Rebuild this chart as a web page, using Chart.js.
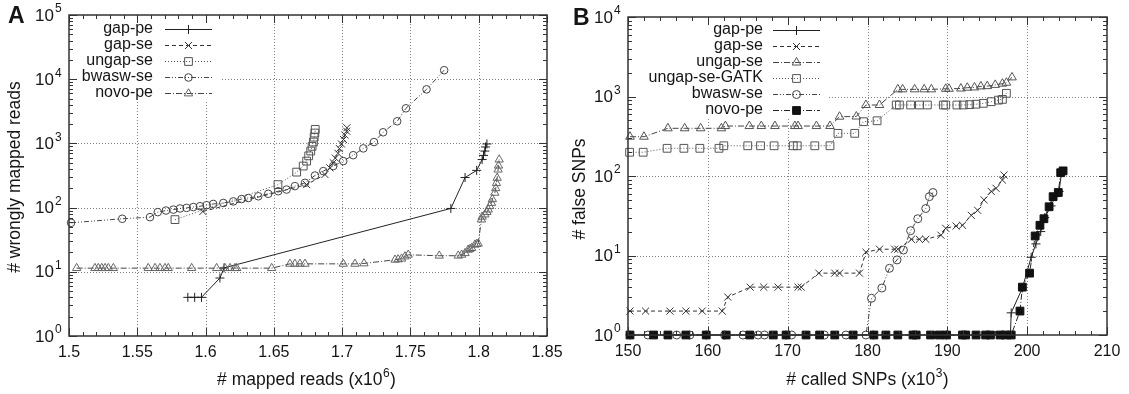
<!DOCTYPE html>
<html>
<head>
<meta charset="utf-8">
<script src="https://cdn.jsdelivr.net/npm/chart.js@4.4.1/dist/chart.umd.min.js"></script>
<style>
  body { margin: 0; background: #fff; }
  #wrap { position: relative; width: 1129px; height: 394px; }
  canvas { position: absolute; top: 0; }
</style>
</head>
<body>
<div id="wrap">
  <canvas id="chartA" width="562" height="394" style="left:0"></canvas>
  <canvas id="chartB" width="567" height="394" style="left:562px"></canvas>
</div>
<script>
// ---- panel A data: wrongly mapped reads vs mapped reads (x10^6) ----
const gapPeAx = [1.587, 1.592, 1.597, 1.6105, 1.6135, 1.7796, 1.790, 1.7985, 1.8025, 1.8035, 1.8045, 1.805, 1.806];
const gapPeAy = [4, 4, 4, 8, 11.5, 97, 294, 380, 560, 650, 760, 880, 980];

const gapSeAx = [1.598, 1.674, 1.6874, 1.691, 1.6935, 1.695, 1.697, 1.698, 1.6995, 1.701, 1.702, 1.7033, 1.7035];
const gapSeAy = [87, 228, 328, 416, 500, 590, 700, 830, 980, 1150, 1350, 1550, 1750];

const ungapSeAx = [1.5776, 1.653, 1.6667, 1.6715, 1.674, 1.6755, 1.677, 1.678, 1.679, 1.6795, 1.680, 1.6803];
const ungapSeAy = [65, 228, 357, 444, 530, 640, 760, 900, 1050, 1250, 1450, 1650];

const bwaswSeAx = [1.5015, 1.539, 1.5593, 1.565, 1.571, 1.5764, 1.5813, 1.5861, 1.591, 1.5959, 1.6008, 1.6056,
  1.613, 1.6203, 1.6264, 1.6313, 1.6386, 1.6459, 1.6532, 1.6593, 1.6654, 1.6728, 1.6801, 1.6862, 1.6935,
  1.7008, 1.7081, 1.7155, 1.7233, 1.730, 1.7403, 1.7467, 1.7618, 1.7747];
const bwaswSeAy = [58, 67, 71, 85, 90, 93, 97, 99, 102, 105, 109, 114, 118, 125, 136, 141, 150, 164, 180, 191,
  216, 243, 316, 370, 444, 530, 655, 836, 1050, 1490, 2210, 3520, 6950, 13800];

const novoPeAx = [1.5056, 1.519, 1.5215, 1.524, 1.5264, 1.5288, 1.5325, 1.558, 1.563, 1.5666, 1.5703, 1.5727,
  1.5898, 1.6081, 1.6142, 1.6179, 1.6215, 1.6228, 1.6484, 1.6618, 1.6654, 1.6691, 1.6728, 1.7008, 1.7094,
  1.716, 1.7387, 1.741, 1.7435, 1.746, 1.7484, 1.7711, 1.785, 1.7875, 1.79, 1.7923, 1.7935, 1.7948, 1.7972,
  1.7985, 1.7996, 1.802, 1.8025, 1.8045, 1.806, 1.807, 1.808, 1.8094, 1.810, 1.8118, 1.8125, 1.813, 1.8135,
  1.8142, 1.8145, 1.815];
const novoPeAy = [11.4, 11.4, 11.4, 11.4, 11.4, 11.4, 11.4, 11.4, 11.4, 11.4, 11.4, 11.4,
  11.4, 11.4, 11.4, 11.4, 11.4, 11.4, 11.4, 13.3, 13.3, 13.3, 13.3, 13.3, 13.3,
  13.5, 15.4, 15.6, 16, 17.3, 18.4, 17.8, 17.8, 18.4, 19.5, 22, 22.5, 23.4, 26.4,
  27, 27.4, 65, 72, 78, 85, 93, 105, 118, 135, 170, 200, 240, 290,
  390, 450, 560];

const xTicksA = [1.5, 1.55, 1.6, 1.65, 1.7, 1.75, 1.8, 1.85];
const xTickLabelsA = ['1.5', '1.55', '1.6', '1.65', '1.7', '1.75', '1.8', '1.85'];
const yExpsA = [0, 1, 2, 3, 4, 5];

// ---- panel B data: false SNPs vs called SNPs (x10^3) ----
const gapPeBx = [150.25, 159.8, 169.8, 180.7, 189.9, 197.9, 198.0, 199.4, 200.5, 201.1, 201.7, 202.2, 203.0, 203.5, 204.0, 204.3];
const gapPeBy = [1, 1, 1, 1, 1, 1, 1.9, 3.9, 9.5, 14, 20, 30, 42, 55, 64, 110];

const gapSeBx = [150.25, 152.2, 155.25, 157.25, 159.3, 161.8, 162.5, 165.3, 167.0, 168.8, 171.3, 171.7, 173.9,
  175.9, 176.5, 179.0, 179.8, 181.5, 183.4, 183.8, 185.5, 186.5, 187.3, 189.2, 189.8, 191.1, 191.9, 193.0,
  193.8, 194.6, 195.5, 196.1, 196.9, 197.1];
const gapSeBy = [2, 2, 2, 2, 2, 2, 3, 4, 4, 4, 4, 4, 6,
  6, 6, 6, 11, 12, 12, 12, 16, 16, 16, 18, 22, 23.5, 24, 32,
  37, 50, 64, 70, 89, 103];

const ungapSeBx = [150.25, 152, 155, 157.1, 159.1, 161.7, 162.2, 165.2, 166.7, 168.4, 170.9, 171.3, 173.6, 175.3,
  176.5, 178.6, 179.8, 181.5, 183.8, 184.4, 185.9, 187.1, 188, 189.8, 190.2, 191.7, 192.5, 193.4, 194.2,
  195.0, 196.0, 196.9, 197.4, 198.1];
const ungapSeBy = [312, 312, 398, 398, 398, 398, 425, 425, 425, 425, 425, 425, 425, 425,
  557, 560, 782, 782, 1230, 1230, 1230, 1230, 1230, 1250, 1250, 1260, 1290, 1300, 1340,
  1350, 1400, 1450, 1490, 1740];

const gatkBx = [150.2, 151.9, 154.9, 157, 159, 161.4, 162, 165, 166.6, 168.3, 170.7, 171.2, 173.4, 175.3,
  176.3, 178.4, 179.5, 181.2, 183.6, 184, 185.4, 186.5, 187.5, 189.5, 189.8, 191.2, 192, 192.8, 193.6,
  194.5, 195.5, 196.4, 196.9, 197.4];
const gatkBy = [199, 199, 223, 223, 223, 223, 240, 240, 240, 240, 240, 240, 240, 240,
  344, 344, 482, 495, 782, 782, 782, 782, 782, 782, 782, 782, 782, 790, 800,
  820, 860, 900, 920, 1096];

const bwaswBx = [152.5, 156.1, 157.75, 162.1, 164.4, 166.3, 167.1, 170.5, 174.6, 177.3, 179.8,
  180.5, 181.8, 182.75, 183.7, 184.5, 185.4, 186.3, 187.3, 187.75, 188.2];
const bwaswBy = [1, 1, 1, 1, 1, 1, 1, 1, 1, 1, 1,
  2.9, 3.9, 6.9, 8.8, 11.7, 20.5, 29, 39, 55, 62];

const novoBx = [150.25, 153.2, 155.0, 157.25, 159.8, 162.3, 165.25, 168.2, 169.8, 172.3,
  174, 175.9, 178.2, 180.8, 182.3, 183.8, 185.7, 186.1, 187.9, 189,
  189.9, 191.9, 192.3, 193.6, 194.8, 195.4, 196.6, 197.25, 198.0,
  199.1, 199.4, 200.3, 201, 201.6, 202.1, 202.75, 203.25, 203.9, 204.2, 204.5];
const novoBy = [1, 1, 1, 1, 1, 1, 1, 1, 1, 1,
  1, 1, 1, 1, 1, 1, 1, 1, 1, 1,
  1, 1, 1, 1, 1, 1, 1, 1, 1,
  2, 4, 6, 17.6, 24, 29, 41, 55, 62, 110, 116];

const xTicksB = [150, 160, 170, 180, 190, 200, 210];
const xTickLabelsB = ['150', '160', '170', '180', '190', '200', '210'];
const yExpsB = [0, 1, 2, 3, 4];

const FONT = '"Liberation Sans", Arial, Helvetica, sans-serif';
const INK = '#151515';

function pts(xs, ys) {
  return xs.map((x, i) => ({ x: x, y: ys[i] }));
}

function series(label, xs, ys, o) {
  return {
    label: label,
    data: pts(xs, ys),
    showLine: true,
    borderColor: o.line || '#333',
    borderWidth: 1,
    borderDash: o.dash,
    pointStyle: o.style,
    pointRadius: o.r,
    pointBorderColor: o.color || '#333',
    pointBackgroundColor: o.fill || 'rgba(0,0,0,0)',
    pointBorderWidth: 1,
    clip: false,
    order: o.order
  };
}

// marker used in the key, same shapes as Chart.js point styles
function drawMarker(ctx, ds, x, y) {
  const r = ds.pointRadius;
  ctx.save();
  ctx.setLineDash([]);
  ctx.lineWidth = ds.pointBorderWidth;
  ctx.strokeStyle = ds.pointBorderColor;
  ctx.fillStyle = ds.pointBackgroundColor;
  ctx.beginPath();
  if (ds.pointStyle === 'cross') {
    ctx.moveTo(x - r, y); ctx.lineTo(x + r, y);
    ctx.moveTo(x, y - r); ctx.lineTo(x, y + r);
  } else if (ds.pointStyle === 'crossRot') {
    const d = r * Math.SQRT1_2;
    ctx.moveTo(x - d, y - d); ctx.lineTo(x + d, y + d);
    ctx.moveTo(x - d, y + d); ctx.lineTo(x + d, y - d);
  } else if (ds.pointStyle === 'rect') {
    const s = r * Math.SQRT1_2;
    ctx.rect(x - s, y - s, 2 * s, 2 * s);
    ctx.fill();
  } else if (ds.pointStyle === 'circle') {
    ctx.arc(x, y, r, 0, Math.PI * 2);
    ctx.fill();
  } else if (ds.pointStyle === 'triangle') {
    ctx.moveTo(x, y - r);
    ctx.lineTo(x + 0.866 * r, y + 0.5 * r);
    ctx.lineTo(x - 0.866 * r, y + 0.5 * r);
    ctx.closePath();
    ctx.fill();
  }
  ctx.stroke();
  ctx.restore();
}

// text with a raised part, e.g. "(x10" + "6" + ")"
function supText(ctx, parts, cx, cy, size) {
  const small = Math.round(size * 0.7);
  ctx.font = size + 'px ' + FONT;
  const w0 = ctx.measureText(parts[0]).width;
  const w2 = ctx.measureText(parts[2]).width;
  ctx.font = small + 'px ' + FONT;
  const w1 = ctx.measureText(parts[1]).width;
  let x = cx - (w0 + w1 + w2) / 2;
  ctx.textAlign = 'left';
  ctx.textBaseline = 'middle';
  ctx.font = size + 'px ' + FONT;
  ctx.fillText(parts[0], x, cy);
  ctx.font = small + 'px ' + FONT;
  ctx.fillText(parts[1], x + w0 + 0.5, cy - 6);
  ctx.font = size + 'px ' + FONT;
  ctx.fillText(parts[2], x + w0 + w1 + 1, cy);
}

function panelPlugin(cfg) {
  return {
    id: 'panel' + cfg.letter,
    beforeDatasetsDraw(chart) {
      const { ctx, chartArea: a, scales: { x, y } } = chart;
      ctx.save();
      ctx.strokeStyle = '#808080';
      ctx.lineWidth = 1;
      ctx.setLineDash([1, 2]);
      cfg.xTicks.forEach(v => {
        const px = Math.round(x.getPixelForValue(v)) + 0.5;
        if (px < a.left + 3 || px > a.right - 3) return;
        ctx.beginPath(); ctx.moveTo(px, a.top); ctx.lineTo(px, a.bottom); ctx.stroke();
      });
      cfg.yExps.forEach(e => {
        const py = Math.round(y.getPixelForValue(Math.pow(10, e))) + 0.5;
        if (py < a.top + 3 || py > a.bottom - 3) return;
        ctx.beginPath(); ctx.moveTo(a.left, py); ctx.lineTo(a.right, py); ctx.stroke();
      });
      ctx.setLineDash([]);
      // white box behind the key
      ctx.fillStyle = '#fff';
      ctx.fillRect(a.left + 1, a.top + 1, cfg.keyBox[0], cfg.keyBox[1]);
      ctx.restore();
    },
    afterDatasetsDraw(chart) {
      const { ctx, chartArea: a, scales: { x, y } } = chart;
      ctx.save();
      ctx.setLineDash([]);
      ctx.strokeStyle = '#333';
      ctx.lineWidth = 1;
      // minor + major ticks on x (bottom and top, pointing in)
      const xMin = cfg.xTicks[0], xMax = cfg.xTicks[cfg.xTicks.length - 1];
      const n = Math.round((xMax - xMin) / cfg.xMinor);
      for (let i = 0; i <= n; i++) {
        const px = Math.round(x.getPixelForValue(xMin + i * cfg.xMinor)) + 0.5;
        const len = i % 5 === 0 ? 8 : 4;
        ctx.beginPath();
        ctx.moveTo(px, a.bottom); ctx.lineTo(px, a.bottom - len);
        ctx.moveTo(px, a.top); ctx.lineTo(px, a.top + len);
        ctx.stroke();
      }
      // log ticks on y (left and right)
      const eMax = cfg.yExps[cfg.yExps.length - 1];
      for (let e = cfg.yExps[0]; e <= eMax; e++) {
        for (let m = 1; m <= 9; m++) {
          if (e === eMax && m > 1) break;
          const py = Math.round(y.getPixelForValue(m * Math.pow(10, e))) + 0.5;
          const len = m === 1 ? 8 : 4;
          ctx.beginPath();
          ctx.moveTo(a.left, py); ctx.lineTo(a.left + len, py);
          ctx.moveTo(a.right, py); ctx.lineTo(a.right - len, py);
          ctx.stroke();
        }
      }
      // frame
      ctx.lineWidth = 1.5;
      ctx.strokeStyle = '#333';
      ctx.strokeRect(a.left, a.top, a.right - a.left, a.bottom - a.top);

      ctx.fillStyle = INK;
      // x tick labels
      ctx.font = '16px ' + FONT;
      ctx.textAlign = 'center';
      ctx.textBaseline = 'middle';
      cfg.xTicks.forEach((v, i) => {
        ctx.fillText(cfg.xLabels[i], x.getPixelForValue(v), a.bottom + 17);
      });
      // y tick labels 10^e
      cfg.yExps.forEach(e => {
        const py = y.getPixelForValue(Math.pow(10, e));
        ctx.font = '17px ' + FONT;
        ctx.textAlign = 'right';
        ctx.fillText('10', a.left - 15, py + 1);
        ctx.font = '12px ' + FONT;
        ctx.textAlign = 'left';
        ctx.fillText(String(e), a.left - 14, py - 6);
      });
      // axis titles
      supText(ctx, cfg.xTitle, cfg.xTitlePos[0], cfg.xTitlePos[1], 17.5);
      ctx.save();
      ctx.translate(cfg.yTitlePos[0], cfg.yTitlePos[1]);
      ctx.rotate(-Math.PI / 2);
      ctx.font = '17.5px ' + FONT;
      ctx.textAlign = 'center';
      ctx.textBaseline = 'middle';
      ctx.fillText(cfg.yTitle, 0, 0);
      ctx.restore();
      // panel letter
      ctx.font = 'bold 23px ' + FONT;
      ctx.textAlign = 'left';
      ctx.textBaseline = 'middle';
      ctx.fillText(cfg.letter, cfg.letterPos[0], cfg.letterPos[1]);

      // key: label right-aligned, sample line + marker to the right
      const k = cfg.key;
      chart.data.datasets.forEach((ds, i) => {
        const ky = k.y0 + i * k.dy;
        ctx.font = '16px ' + FONT;
        ctx.fillStyle = INK;
        ctx.textAlign = 'right';
        ctx.textBaseline = 'middle';
        ctx.fillText(ds.label, k.textRight, ky);
        ctx.save();
        ctx.strokeStyle = ds.borderColor;
        ctx.lineWidth = 1;
        ctx.setLineDash(ds.borderDash || []);
        ctx.beginPath();
        ctx.moveTo(k.x1, Math.round(ky) + 0.5);
        ctx.lineTo(k.x2, Math.round(ky) + 0.5);
        ctx.stroke();
        ctx.restore();
        drawMarker(ctx, ds, (k.x1 + k.x2) / 2, Math.round(ky) + 0.5);
      });
      ctx.restore();
    }
  };
}

function makeChart(id, datasets, xr, yr, pad, cfg) {
  return new Chart(document.getElementById(id), {
    type: 'scatter',
    data: { datasets: datasets },
    options: {
      responsive: false,
      animation: false,
      events: [],
      layout: { padding: pad },
      scales: {
        x: { type: 'linear', min: xr[0], max: xr[1], display: false },
        y: { type: 'logarithmic', min: yr[0], max: yr[1], display: false }
      },
      plugins: { legend: { display: false }, tooltip: { enabled: false } }
    },
    plugins: [panelPlugin(cfg)]
  });
}

const DASH = [4, 3], DOT = [1, 2], DASHDOT = [6, 2, 1, 2], DASHDOTDOT = [5, 2, 1, 2, 1, 2];

makeChart('chartA', [
  series('gap-pe', gapPeAx, gapPeAy, { dash: [], style: 'cross', r: 4.5, line: '#222', color: '#222', order: 5 }),
  series('gap-se', gapSeAx, gapSeAy, { dash: DASH, style: 'crossRot', r: 5, line: '#333', color: '#333', order: 4 }),
  series('ungap-se', ungapSeAx, ungapSeAy, { dash: DOT, style: 'rect', r: 5.5, line: '#555', color: '#555', order: 3 }),
  series('bwasw-se', bwaswSeAx, bwaswSeAy, { dash: DASHDOTDOT, style: 'circle', r: 3.8, line: '#444', color: '#444', order: 2 }),
  series('novo-pe', novoPeAx, novoPeAy, { dash: DASHDOT, style: 'triangle', r: 4.8, line: '#444', color: '#666', order: 1 })
], [1.5, 1.85], [1, 1e5], { left: 69, right: 15, top: 15, bottom: 58 }, {
  letter: 'A', letterPos: [8, 17],
  xTicks: xTicksA, xLabels: xTickLabelsA, xMinor: 0.01, yExps: yExpsA,
  xTitle: ['# mapped reads (x10', '6', ')'], xTitlePos: [306, 380],
  yTitle: '# wrongly mapped reads', yTitlePos: [15, 177],
  keyBox: [150, 84],
  key: { textRight: 153, x1: 165, x2: 212, y0: 29, dy: 15.9 }
});

makeChart('chartB', [
  series('gap-pe', gapPeBx, gapPeBy, { dash: [], style: 'cross', r: 4.5, line: '#222', color: '#222', order: 6 }),
  series('gap-se', gapSeBx, gapSeBy, { dash: DASH, style: 'crossRot', r: 5, line: '#333', color: '#333', order: 5 }),
  series('ungap-se', ungapSeBx, ungapSeBy, { dash: DASHDOT, style: 'triangle', r: 5, line: '#444', color: '#555', order: 4 }),
  series('ungap-se-GATK', gatkBx, gatkBy, { dash: DOT, style: 'rect', r: 5.5, line: '#555', color: '#555', order: 3 }),
  series('bwasw-se', bwaswBx, bwaswBy, { dash: DASHDOTDOT, style: 'circle', r: 4, line: '#444', color: '#444', order: 2 }),
  series('novo-pe', novoBx, novoBy, { dash: DASHDOT, style: 'rect', r: 5.5, line: '#222', color: '#111', fill: '#111', order: 1 })
], [150, 210], [1, 1e4], { left: 66, right: 22, top: 17, bottom: 59 }, {
  letter: 'B', letterPos: [11, 19],
  xTicks: xTicksB, xLabels: xTickLabelsB, xMinor: 2, yExps: yExpsB,
  xTitle: ['# called SNPs (x10', '3', ')'], xTitlePos: [305, 380],
  yTitle: '# false SNPs', yTitlePos: [18, 189],
  keyBox: [198, 100],
  key: { textRight: 201, x1: 211, x2: 258, y0: 30, dy: 16 }
});
</script>
</body>
</html>
